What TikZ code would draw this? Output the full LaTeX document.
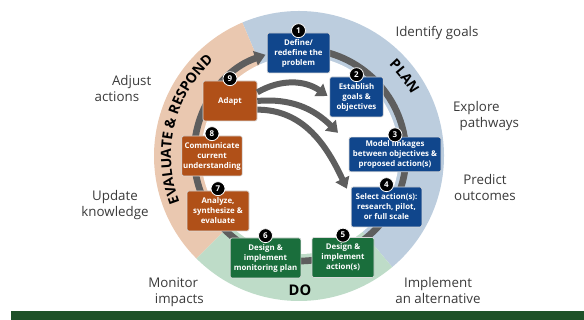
\documentclass[tikz,border=0pt]{standalone}
\usepackage{fontspec}
\setmainfont{Open Sans}
\usetikzlibrary{arrows.meta,decorations.text}

\definecolor{planblue}{HTML}{10468C}
\definecolor{dogreen}{HTML}{1A6E3C}
\definecolor{evalorange}{HTML}{B05018}
\definecolor{planfill}{HTML}{BCCDDE}
\definecolor{dofill}{HTML}{BEDCC8}
\definecolor{evalfill}{HTML}{EAC8B0}
\definecolor{loopgray}{HTML}{5E5E5E}
\definecolor{labelgray}{HTML}{3A3A3A}
\definecolor{footgreen}{HTML}{1E5128}

\tikzset{
  stepbox/.style={draw=white!85!black, line width=0.5pt, rounded corners=1.5pt,
    text=white, align=center, font=\fontsize{5.9}{7.5}\selectfont\bfseries,
    minimum height=30pt, inner sep=1pt},
  planbox/.style={stepbox, fill=planblue},
  dobox/.style={stepbox, fill=dogreen},
  evalbox/.style={stepbox, fill=evalorange},
  badge/.style={circle, fill=black, draw=white, line width=0.6pt, text=white,
    font=\fontsize{6}{6}\selectfont\bfseries, inner sep=0pt, minimum size=10.5pt},
  outer/.style={text=labelgray, font=\fontsize{10}{12}\selectfont, align=center},
  loop/.style={draw=loopgray, line width=5pt},
  jump/.style={draw=loopgray, line width=4.5pt, -{Triangle[length=8pt,width=11pt]}},
}

\begin{document}
\begin{tikzpicture}[x=0.75pt,y=0.75pt]
\useasboundingbox (0,0) rectangle (584,320);

% the three phases
\coordinate (mid) at (299,164);
\coordinate (hub) at (300,165);
\fill[planfill] (mid) -- ++(-50:145) arc[start angle=-50,end angle=113,radius=145] -- cycle;
\fill[evalfill] (mid) -- ++(113:145) arc[start angle=113,end angle=225,radius=145] -- cycle;
\fill[dofill] (mid) -- ++(225:145) arc[start angle=225,end angle=310,radius=145] -- cycle;
\fill[white] (hub) circle[radius=99];

% main cycle
\draw[loop, -{Triangle[length=8pt,width=11pt]}] ([shift={(100:106)}]hub) arc[start angle=100,end angle=-251,radius=106];

% steps
\node[planbox, minimum width=47pt] (b1) at (298.5,267) {Define/\\redefine the\\problem};
\node[planbox, minimum width=40pt] (b2) at (356.5,223) {Establish\\goals \&\\objectives};
\node[planbox, minimum width=69pt, minimum height=26pt] (b3) at (395,165.5) {Model linkages\\between objectives \&\\proposed action(s)};
\node[planbox, minimum width=53pt] (b4) at (386.5,113) {Select action(s):\\research, pilot,\\or full scale};
\node[dobox, minimum width=46.5pt] (b5) at (343,62.5) {Design \&\\implement\\action(s)};
\node[dobox, minimum width=53pt] (b6) at (265.5,62) {Design \&\\implement\\monitoring plan};
\node[evalbox, minimum width=46.5pt] (b7) at (218,109) {Analyze,\\synthesize \&\\evaluate};
\node[evalbox, minimum width=45pt] (b8) at (212,164) {Communicate\\current\\understanding};
\node[evalbox, minimum width=40.5pt] (b9) at (230,219) {Adapt};

\foreach \i in {1,...,9}
  \node[badge] (n\i) at ([yshift=1.5pt]b\i.north) {\i};

% shortcuts from Adapt
\draw[jump] ([yshift=6.5pt]b9.east) to[out=30,in=145] ([xshift=-1.5pt,yshift=0.75pt]b2.west);
\draw[jump] (b9.east) to[out=5,in=135] ([xshift=-8pt,yshift=3pt]b3.north west);
\draw[jump] ([yshift=-6.5pt]b9.east) to[out=0,in=115] ([xshift=-3pt,yshift=-1.5pt]b4.north west);

% phase names
\path[decorate, decoration={text along path, text align=center,
  text={|\fontsize{10.5}{12}\selectfont\bfseries|EVALUATE {\&} RESPOND}}]
  ([shift={(204:128)}]mid) arc[start angle=204,end angle=129,radius=128];
\path[decorate, decoration={text along path, text align=center,
  text={|\fontsize{10.5}{12}\selectfont\bfseries|PLAN}}]
  ([shift={(50:128)}]mid) arc[start angle=50,end angle=24,radius=128];
\node[font=\fontsize{11}{12}\selectfont\bfseries] (dolabel) at (300,30) {DO};

% outcomes around the cycle
\node[outer] (goals) at (437,287) {Identify goals};
\node[outer, align=left] (explore) at (486,204) {Explore\\\hspace*{5pt}pathways};
\node[outer] (predict) at (485,132) {Predict\\outcomes};
\node[outer] (implement) at (438,29) {Implement\\an alternative};
\node[outer, align=left] (monitor) at (176,28) {Monitor\\\hspace*{5pt}impacts};
\node[outer] (update) at (115,115) {Update\\knowledge};
\node[outer, align=left] (adjust) at (123,231) {\hspace*{13pt}Adjust\\actions};

\fill[footgreen] (11,0) rectangle (584,8.5);
\end{tikzpicture}
\end{document}
